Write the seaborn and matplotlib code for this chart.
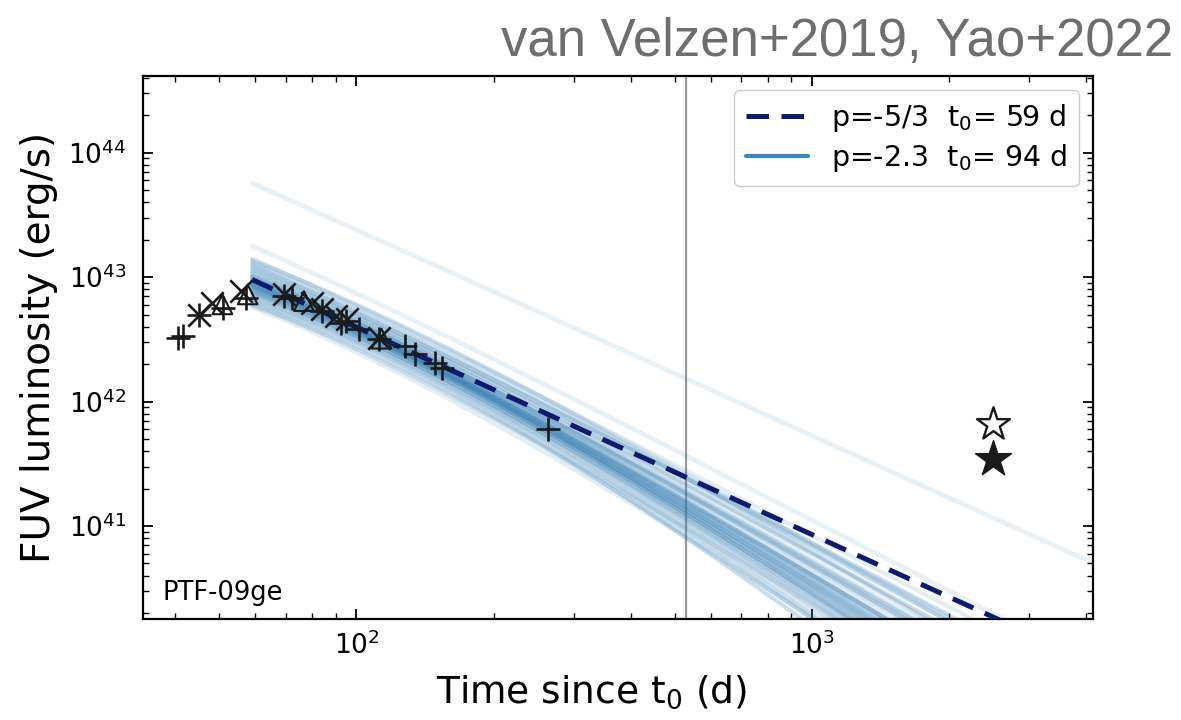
import numpy as np
import pandas as pd
import matplotlib
matplotlib.use("Agg")
import matplotlib.pyplot as plt
from matplotlib.lines import Line2D
from matplotlib.ticker import LogLocator, NullFormatter
import seaborn as sns

# ---- photometry (days since t0, erg/s) ----
plus_t = [40.5, 41.6, 45.2, 51.0, 57.2, 69.5, 72.3, 84.0, 92.3, 95.0, 101.2, 112.0, 128.0, 134.6, 148.8, 154.0, 263.6]
plus_L = [3.22e42, 3.36e42, 4.92e42, 5.6e42, 6.8e42, 7.1e42, 6.82e42, 5.3e42, 4.3e42, 4.4e42, 3.80e42, 3.2e42, 2.79e42, 2.39e42, 2.05e42, 1.87e42, 5.98e41]
cross_t = [45.2, 48.3, 55.7, 69.3, 80.0, 84.1, 90.0, 95.4, 111.9]
cross_L = [4.92e42, 6.22e42, 7.73e42, 7.26e42, 6.22e42, 5.51e42, 4.86e42, 4.57e42, 3.25e42]
tri_t = [50.8, 57.7, 76.7, 113.5]
tri_L = [6.04e42, 7.26e42, 6.42e42, 3.2e42]

# late-time points
star_open_t, star_open_L = [2500.0], [6.6e41]
star_fill_t, star_fill_L = [2500.0], [3.45e41]

# ---- power-law models: L = A * ((t - t_peak + t0) / t0) ** p ----
t_peak = 59.0
t_mark = 530.0

# p = -5/3 reference model
ref_logA, ref_p, ref_t0 = 42.98, -5.0 / 3.0, 59.0

# posterior draws of the p = -2.3 model
band_logA = [42.93, 42.97, 42.88, 43.01, 42.95, 42.90, 43.05, 42.85, 42.99, 42.92,
             42.96, 43.08, 42.87, 42.94, 43.02, 42.91, 42.83, 42.98, 43.10, 42.89,
             42.95, 43.00, 42.86, 42.93, 43.04, 42.97, 42.81, 42.92, 43.06, 42.90,
             42.99, 42.94, 42.84, 43.03, 42.96, 42.88, 43.12, 42.91, 42.98, 42.93,
             42.87, 43.01, 42.95, 42.82, 43.07, 42.92, 42.97, 42.89, 43.00, 42.94,
             43.15, 42.78, 43.13, 42.76, 43.09, 42.80, 43.14, 42.79, 43.11, 42.77]
band_p = [-2.30, -2.21, -2.42, -2.15, -2.35, -2.48, -2.05, -2.60, -2.26, -2.38,
          -2.19, -2.00, -2.55, -2.33, -2.12, -2.44, -2.70, -2.24, -1.96, -2.51,
          -2.28, -2.10, -2.58, -2.36, -2.08, -2.22, -2.75, -2.40, -2.03, -2.46,
          -2.17, -2.31, -2.64, -2.13, -2.27, -2.49, -1.98, -2.39, -2.20, -2.34,
          -2.53, -2.14, -2.29, -2.68, -2.06, -2.41, -2.25, -2.47, -2.16, -2.32,
          -1.92, -2.80, -2.25, -2.45, -1.94, -2.85, -2.10, -2.30, -2.02, -2.62]
band_t0 = [94, 88, 102, 85, 97, 108, 80, 115, 91, 100,
           86, 76, 112, 96, 83, 104, 122, 90, 72, 110,
           93, 82, 114, 98, 79, 89, 125, 101, 77, 106,
           87, 95, 118, 84, 92, 107, 74, 99, 88, 96,
           111, 84, 94, 120, 78, 103, 90, 109, 86, 97,
           70, 128, 95, 100, 72, 130, 84, 92, 76, 116]
# two poorly-constrained draws
wide_logA = [43.755, 43.25]
wide_p = [-1.66, -1.90]
wide_t0 = [60.0, 70.0]


def model(t, logA, p, t0):
    return 10.0 ** logA * ((t - t_peak + t0) / t0) ** p


t_grid = np.geomspace(t_peak, 4300.0, 300)

band_df = pd.concat(
    [pd.DataFrame({"t": t_grid, "L": model(t_grid, a, p, t0), "draw": i})
     for i, (a, p, t0) in enumerate(zip(band_logA, band_p, band_t0))],
    ignore_index=True)
wide_df = pd.concat(
    [pd.DataFrame({"t": t_grid, "L": model(t_grid, a, p, t0), "draw": i})
     for i, (a, p, t0) in enumerate(zip(wide_logA, wide_p, wide_t0))],
    ignore_index=True)
ref_df = pd.DataFrame({"t": t_grid, "L": model(t_grid, ref_logA, ref_p, ref_t0)})

# ---- styling ----
sns.set_theme(style="ticks")
plt.rcParams["font.family"] = ["DejaVu Sans"]
plt.rcParams.update({
    "xtick.direction": "in", "ytick.direction": "in",
    "xtick.top": True, "ytick.right": True,
    "axes.linewidth": 1.6,
    "text.color": "black", "axes.labelcolor": "black",
    "xtick.color": "black", "ytick.color": "black",
    "axes.edgecolor": "black",
})

band_color = "#2a78b0"
navy = "#0d1a6e"

fig = plt.figure(figsize=(11.81, 7.2), dpi=100)
ax = fig.add_axes([0.1211, 0.1407, 0.8044, 0.7537])
ax.set_xscale("log")
ax.set_yscale("log")

ax.axvline(t_mark, color="#9a9a9a", lw=1.6, zorder=1)

sns.lineplot(data=band_df, x="t", y="L", units="draw", estimator=None, sort=False,
             color=band_color, alpha=0.13, lw=3.0, legend=False, ax=ax, zorder=2)
sns.lineplot(data=wide_df, x="t", y="L", units="draw", estimator=None, sort=False,
             color=band_color, alpha=0.1, lw=3.4, legend=False, ax=ax, zorder=2)
sns.lineplot(data=ref_df, x="t", y="L", estimator=None, sort=False, color=navy,
             lw=3.6, linestyle=(0, (4.5, 2.5)), legend=False, ax=ax, zorder=4)

sns.scatterplot(x=plus_t, y=plus_L, marker="+", s=300, color="k", linewidth=1.9, ax=ax, zorder=5)
sns.scatterplot(x=cross_t, y=cross_L, marker="x", s=260, color="k", linewidth=1.9, ax=ax, zorder=5)
ax.scatter(tri_t, tri_L, marker="^", s=200, facecolors="none", edgecolors="k", linewidths=1.5, zorder=5)
ax.scatter(star_open_t, star_open_L, marker="*", s=620, facecolors="white", edgecolors="k", linewidths=1.7, zorder=5)
ax.scatter(star_fill_t, star_fill_L, marker="*", s=740, color="k", zorder=5)

ax.set_xlim(34.0, 4140.0)
ax.set_ylim(1.8e40, 4.13e44)

ax.xaxis.set_major_locator(LogLocator(base=10, numticks=10))
ax.yaxis.set_major_locator(LogLocator(base=10, numticks=10))
ax.xaxis.set_minor_locator(LogLocator(base=10, subs=np.arange(2, 10), numticks=20))
ax.yaxis.set_minor_locator(LogLocator(base=10, subs=np.arange(2, 10), numticks=20))
ax.xaxis.set_minor_formatter(NullFormatter())
ax.yaxis.set_minor_formatter(NullFormatter())
ax.tick_params(which="major", length=7, width=1.3, labelsize=19)
ax.tick_params(axis="y", which="major", pad=12)
ax.tick_params(axis="x", which="major", pad=9)
ax.tick_params(which="minor", length=4, width=1.0)

ax.set_ylabel("FUV luminosity (erg/s)", fontsize=28)
ax.set_xlabel("Time since t$_0$ (d)", fontsize=27)
ax.yaxis.set_label_coords(-0.09, 0.5)
ax.xaxis.set_label_coords(0.472, -0.10)

ax.text(0.021, 0.035, "PTF-09ge", transform=ax.transAxes, fontsize=18.5, va="baseline", ha="left")

handles = [
    Line2D([], [], color=navy, lw=3.6, linestyle=(0, (4.5, 2.5))),
    Line2D([], [], color="#3a88b9", lw=3.0),
]
labels = ["p=-5/3  t$_0$= 59 d", "p=-2.3  t$_0$= 94 d"]
leg = ax.legend(handles, labels, loc="upper right", fontsize=20.5, frameon=True,
                handlelength=2.2, handletextpad=0.8, borderaxespad=0.5,
                fancybox=True, framealpha=1, labelspacing=0.3)
leg.get_frame().set_edgecolor("#cccccc")

fig.text(0.993, 1 - 56 / 720, "van Velzen+2019, Yao+2022", ha="right", va="baseline",
         fontsize=38, color="#6e6e6e", family=["Liberation Sans", "DejaVu Sans"])

fig.savefig("out.png", dpi=100)
